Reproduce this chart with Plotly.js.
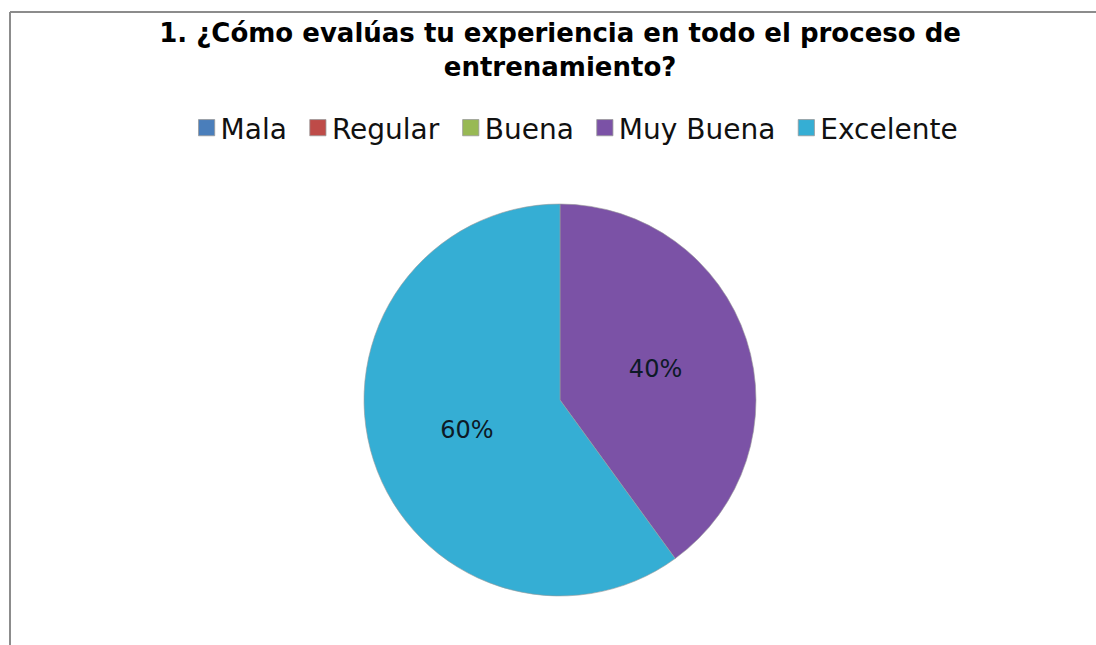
<!DOCTYPE html>
<html>
<head>
<meta charset="utf-8">
<script src="https://cdn.plot.ly/plotly-3.0.1.min.js"></script>
<style>html,body{margin:0;padding:0;background:#fff;}#chart{width:1096px;height:645px;}</style>
</head>
<body>
<div id="chart"></div>
<script>
var categories = ["Mala", "Regular", "Buena", "Muy Buena", "Excelente"];
var percentages = [0, 0, 0, 40, 60];
var sliceColors = ["#4A7EBB", "#BE4B48", "#98B954", "#7B52A6", "#35AED4"];

var trace = {
  type: "pie",
  labels: categories,
  values: percentages,
  sort: false,
  direction: "clockwise",
  rotation: 0,
  marker: {colors: sliceColors, line: {color: "#9a9a9a", width: 0.6}},
  texttemplate: "%{value}%",
  textinfo: "text",
  textposition: "inside",
  insidetextorientation: "horizontal",
  textfont: {family: "DejaVu Sans, sans-serif", size: 24, color: "#0d1a26"},
  hoverinfo: "label+percent",
  domain: {x: [0.3321, 0.6898], y: [0.076, 0.6837]}
};

var layout = {
  width: 1096,
  height: 645,
  margin: {l: 0, r: 0, t: 0, b: 0},
  paper_bgcolor: "#ffffff",
  showlegend: true,
  title: {
    text: "<b>1. ¿Cómo evalúas tu experiencia en todo el proceso de<br>entrenamiento?</b>",
    font: {family: "DejaVu Sans, sans-serif", size: 26, color: "#000"},
    x: 0.511, xanchor: "center",
    yref: "container",
    y: 0.935, yanchor: "top"
  },
  legend: {
    orientation: "h",
    x: 0.522, xanchor: "center",
    y: 0.8016, yanchor: "middle",
    font: {family: "DejaVu Sans, sans-serif", size: 28, color: "#111"},
    itemwidth: 30,
    traceorder: "normal"
  },
  shapes: [
    {type: "line", xref: "paper", yref: "paper", x0: 10/1096, x1: 1.0, y0: 1 - 12/645, y1: 1 - 12/645, line: {color: "#8c8c8c", width: 2}},
    {type: "line", xref: "paper", yref: "paper", x0: 10/1096, x1: 10/1096, y0: 1 - 12/645, y1: 0, line: {color: "#8c8c8c", width: 2}}
  ]
};

Plotly.newPlot("chart", [trace], layout, {displayModeBar: false, staticPlot: true}).then(function (gd) {
  var pts = gd.querySelectorAll(".legend .legendpoints path");
  pts.forEach(function (p) {
    var t = p.getAttribute("transform") || "";
    p.setAttribute("transform", t + " translate(6,0) scale(1.35)");
  });
});
</script>
</body>
</html>
